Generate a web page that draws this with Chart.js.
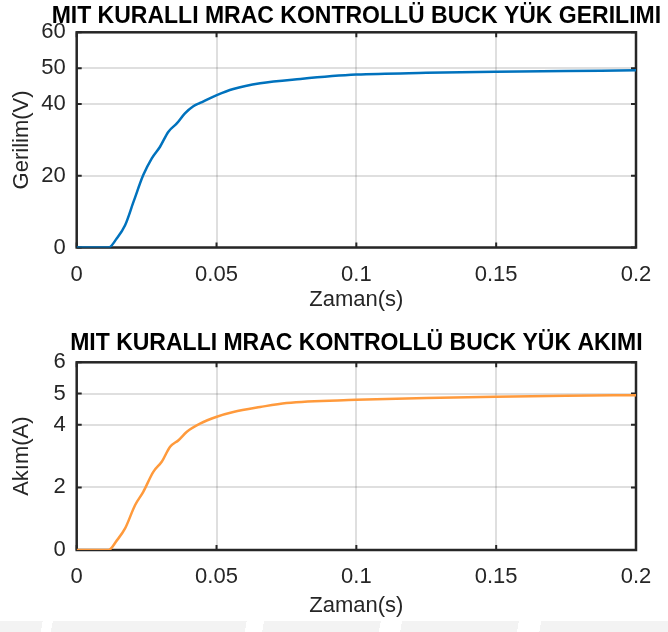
<!DOCTYPE html>
<html lang="tr">
<head>
<meta charset="UTF-8">
<title>MIT kurallı MRAC kontrollü buck</title>
<script src="https://cdn.jsdelivr.net/npm/chart.js@4"></script>
<style>
    body {
        margin: 0;
        background: #fff;
    }

    .wrap {
        position: relative;
        width: 668px;
        height: 632px;
        overflow: hidden;
        background: #fff;
    }

    .panel {
        position: absolute;
        left: 0;
    }

    #topChart {
        top: 0;
    }

    #bottomChart {
        top: 316px;
    }

    /* faint watermark strip at the bottom of the scan */
    .band {
        position: absolute;
        left: 0;
        top: 621px;
        width: 668px;
        height: 11px;
        background: linear-gradient(100deg, #f3f3f3 0 42px, #fff 42px 52px, #f3f3f3 52px 243px, #fff 243px 260px,
                #f3f3f3 260px 375px, #fff 375px 396px, #f3f3f3 396px 511px, #fff 511px 533px, #f3f3f3 533px);
    }
</style>
</head>
<body>
<div class="wrap">
    <canvas id="topChart" class="panel" width="668" height="316"></canvas>
    <canvas id="bottomChart" class="panel" width="668" height="316"></canvas>
    <div class="band"></div>
</div>
<script>
    // x axis (time, s)
    const xTicks = [0, 0.05, 0.1, 0.15, 0.2];
    const xTickLabels = ['0', '0.05', '0.1', '0.15', '0.2'];

    // load voltage
    const timeV = [0, 0.0114, 0.0143, 0.0173, 0.0203, 0.0238, 0.0268, 0.0298, 0.0328, 0.0358, 0.0387, 0.0417,
        0.0441, 0.0501, 0.056, 0.0656, 0.08, 0.1, 0.125, 0.15, 0.175, 0.2];
    const voltage = [0, 0, 2.5, 6.2, 12.7, 20.2, 24.8, 28.1, 32.3, 34.6, 37.4, 39.4,
        40.3, 42.5, 44.2, 45.8, 47.0, 48.2, 48.7, 49.0, 49.2, 49.4];
    const yTicksV = [0, 20, 40, 50, 60];

    // load current
    const timeI = [0, 0.0114, 0.0143, 0.0173, 0.0209, 0.0238, 0.0274, 0.0304, 0.0334, 0.0364, 0.0394,
        0.0441, 0.0501, 0.056, 0.0656, 0.075, 0.1, 0.125, 0.15, 0.175, 0.2];
    const current = [0, 0, 0.3, 0.69, 1.44, 1.86, 2.5, 2.82, 3.3, 3.51, 3.78,
        4.04, 4.26, 4.41, 4.57, 4.70, 4.80, 4.86, 4.90, 4.93, 4.95];
    const yTicksI = [0, 2, 4, 5, 6];

    const FONT = '"Liberation Sans", Arial, Helvetica, sans-serif';
    const AXIS_COLOR = '#262626';
    const GRID_COLOR = 'rgba(38,38,38,0.15)';

    // matlab style box: full frame + inward ticks, title centred on the axes
    const boxPlugin = {
        id: 'box',
        beforeDatasetsDraw(chart, args, opts) {
            const { ctx, chartArea: a, scales } = chart;
            const x = scales.x, y = scales.y;
            const tl = 5;
            ctx.save();
            ctx.strokeStyle = AXIS_COLOR;
            ctx.lineWidth = 2;
            ctx.beginPath();
            x.ticks.forEach(t => {
                const px = x.getPixelForValue(t.value);
                ctx.moveTo(px, a.bottom); ctx.lineTo(px, a.bottom - tl);
                ctx.moveTo(px, a.top); ctx.lineTo(px, a.top + tl);
            });
            y.ticks.forEach(t => {
                const py = y.getPixelForValue(t.value);
                ctx.moveTo(a.left, py); ctx.lineTo(a.left + tl, py);
                ctx.moveTo(a.right, py); ctx.lineTo(a.right - tl, py);
            });
            ctx.stroke();
            ctx.lineWidth = 2.5;
            ctx.strokeRect(a.left, a.top, a.right - a.left, a.bottom - a.top);
            ctx.restore();
        },
        afterDraw(chart, args, opts) {
            const { ctx, chartArea: a } = chart;
            ctx.save();
            ctx.font = 'bold 23px ' + FONT;
            ctx.fillStyle = '#000';
            ctx.textAlign = 'center';
            ctx.textBaseline = 'alphabetic';
            ctx.fillText(opts.title, (a.left + a.right) / 2, opts.titleY);
            ctx.restore();
        }
    };

    function makeChart(id, title, titleY, times, values, color, yTicks, yMax, yLabel, padTop, xHeight, xTitlePad) {
        const pts = times.map((t, i) => ({ x: t, y: values[i] }));
        return new Chart(document.getElementById(id), {
            type: 'line',
            data: {
                datasets: [{
                    data: pts,
                    borderColor: color,
                    borderWidth: 2.5,
                    pointRadius: 0,
                    cubicInterpolationMode: 'monotone',
                    fill: false
                }]
            },
            options: {
                responsive: false,
                animation: false,
                devicePixelRatio: 1,
                layout: { padding: { top: padTop, right: 32, left: 0, bottom: 0 } },
                plugins: {
                    legend: { display: false },
                    tooltip: { enabled: false },
                    box: { title: title, titleY: titleY }
                },
                scales: {
                    x: {
                        type: 'linear',
                        min: 0,
                        max: 0.2,
                        afterBuildTicks: s => { s.ticks = xTicks.map(v => ({ value: v })); },
                        afterFit: s => { s.height = xHeight; },
                        border: { display: false },
                        grid: { color: GRID_COLOR, lineWidth: 2, drawTicks: false },
                        ticks: {
                            color: AXIS_COLOR,
                            padding: 14,
                            maxRotation: 0,
                            font: { family: FONT, size: 22 },
                            callback: (v, i) => xTickLabels[i]
                        },
                        title: {
                            display: true,
                            text: 'Zaman(s)',
                            color: AXIS_COLOR,
                            font: { family: FONT, size: 22 },
                            padding: { top: 0, bottom: xTitlePad }
                        }
                    },
                    y: {
                        type: 'linear',
                        min: 0,
                        max: yMax,
                        afterBuildTicks: s => { s.ticks = yTicks.map(v => ({ value: v })); },
                        afterFit: s => { s.width = 76.7; },
                        border: { display: false },
                        grid: { color: GRID_COLOR, lineWidth: 2, drawTicks: false },
                        ticks: {
                            color: AXIS_COLOR,
                            padding: 11,
                            font: { family: FONT, size: 22 }
                        },
                        title: {
                            display: true,
                            text: yLabel,
                            color: AXIS_COLOR,
                            font: { family: FONT, size: 22 },
                            padding: { top: 9, bottom: 0 }
                        }
                    }
                }
            },
            plugins: [boxPlugin]
        });
    }

    makeChart('topChart', 'MIT KURALLI MRAC KONTROLLÜ BUCK YÜK GERILIMI', 23,
        timeV, voltage, '#0072BD', yTicksV, 60, 'Gerilim(V)', 32.3, 68.5, 3);
    makeChart('bottomChart', 'MIT KURALLI MRAC KONTROLLÜ BUCK YÜK AKIMI', 34,
        timeI, current, '#FF9A3C', yTicksI, 6, 'Akım(A)', 46.3, 82, 13);
</script>
</body>
</html>
